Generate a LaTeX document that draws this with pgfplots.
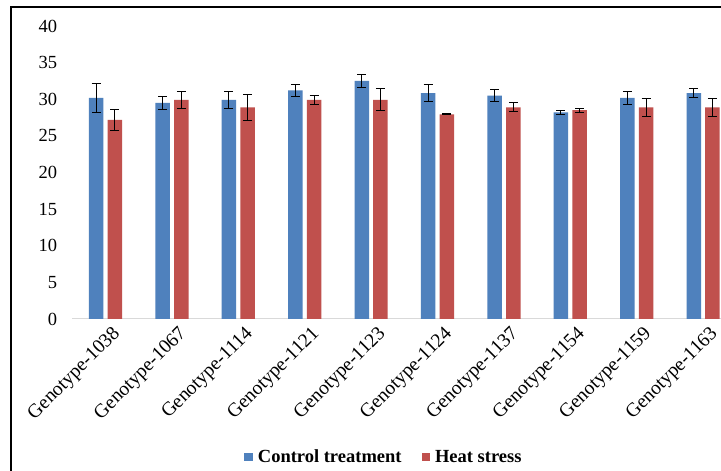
\documentclass[border=0pt]{standalone}
\usepackage{fontspec}
\setmainfont{Liberation Serif}
\usepackage{pgfplots}
\pgfplotsset{compat=1.18}
\definecolor{ctrlblue}{HTML}{4F81BD}
\definecolor{heatred}{HTML}{C0504D}
\definecolor{axisgray}{HTML}{D9D9D9}

\pgfplotsset{
  errstyle/.style={
    error bars/.cd,
      y dir=both, y explicit,
      error bar style={line width=1pt, black},
      error mark options={rotate=90, mark size=4.5pt, line width=1pt, black},
  },
}

\begin{document}
\begin{tikzpicture}
\useasboundingbox (0,0) rectangle (721pt,471pt);
\clip (0,0) rectangle (721pt,471pt);
\fill[white] (0,0) rectangle (721pt,471pt);
% chart frame
\draw[line width=2pt] (10.5pt,463.5pt) rectangle (790pt,-30pt);
\begin{axis}[
  at={(72.3pt,152pt)}, anchor=south west,
  scale only axis, width=664pt, height=293pt,
  ybar=4.2pt, bar width=14.5pt,
  xmin=-0.5, xmax=9.5, ymin=0, ymax=40,
  xtick={0,...,9},
  xticklabels={Genotype-1038,Genotype-1067,Genotype-1114,Genotype-1121,Genotype-1123,
               Genotype-1124,Genotype-1137,Genotype-1154,Genotype-1159,Genotype-1163},
  ytick={0,5,...,40},
  axis x line=bottom, axis y line=left,
  x axis line style={-, draw=axisgray, line width=1pt},
  y axis line style={draw=none},
  major tick length=0pt,
  tick style={draw=none},
  /pgf/number format/assume math mode=true,
  yticklabel style={anchor=east, inner sep=0pt, xshift=-15pt, font=\fontsize{18.5}{20}\selectfont},
  xticklabel style={rotate=45, anchor=east, inner sep=0pt, yshift=-17pt, font=\fontsize{19.5}{21}\selectfont},
  legend style={at={(0.4694,-0.471)}, anchor=center, draw=none, fill=none,
    legend columns=2, font=\bfseries\fontsize{18.5}{20}\selectfont,
    /tikz/every odd column/.append style={column sep=3pt},
    /tikz/every even column/.append style={column sep=18pt}},
  legend image code/.code={\fill[#1] (0pt,-4.2pt) rectangle (8.5pt,4.2pt);},
]
\addplot[fill=ctrlblue, draw=none, errstyle] coordinates {
  (0,30.2)  +- (0,2.0)
  (1,29.5)  +- (0,0.9)
  (2,29.9)  +- (0,1.1)
  (3,31.2)  +- (0,0.85)
  (4,32.5)  +- (0,0.9)
  (5,30.85) +- (0,1.15)
  (6,30.5)  +- (0,0.85)
  (7,28.2)  +- (0,0.25)
  (8,30.2)  +- (0,0.85)
  (9,30.85) +- (0,0.6)
};
\addlegendentry{Control treatment}
\addplot[fill=heatred, draw=none, errstyle] coordinates {
  (0,27.2)  +- (0,1.4)
  (1,29.9)  +- (0,1.1)
  (2,28.9)  +- (0,1.75)
  (3,29.9)  +- (0,0.6)
  (4,29.9)  +- (0,1.5)
  (5,27.95) +- (0,0.05)
  (6,28.9)  +- (0,0.6)
  (7,28.5)  +- (0,0.3)
  (8,28.9)  +- (0,1.2)
  (9,28.9)  +- (0,1.2)
};
\addlegendentry{Heat stress}
\end{axis}
\end{tikzpicture}
\end{document}
